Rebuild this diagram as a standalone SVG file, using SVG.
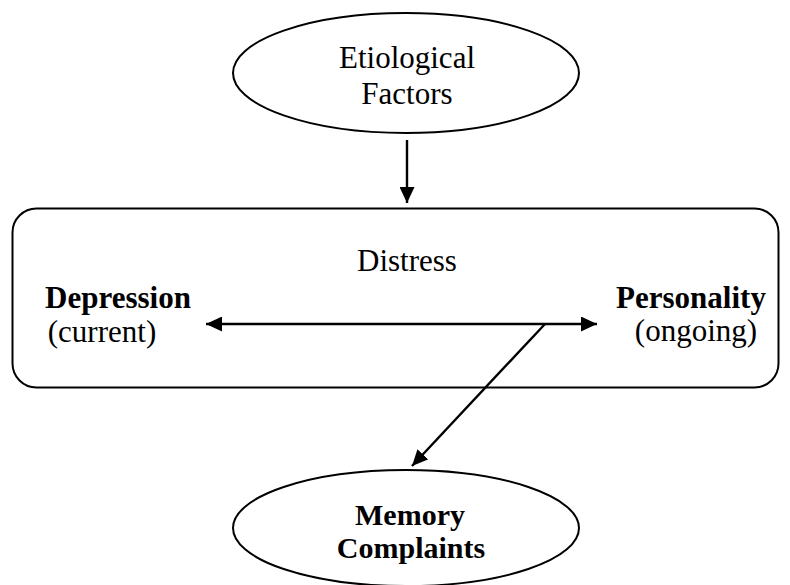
<svg xmlns="http://www.w3.org/2000/svg" width="790" height="585" viewBox="0 0 790 585">
<style>
.shape{fill:#fff;stroke:#000;stroke-width:2}
.t{font-family:"Liberation Serif","Times New Roman",serif;font-size:31px;fill:#000;text-anchor:middle}
.b{font-weight:bold}
.m{font-size:30px}
.c{stroke:#000;stroke-width:2.4;fill:none}
</style>
<defs>
<marker id="ah" markerUnits="userSpaceOnUse" markerWidth="17" markerHeight="15" refX="16" refY="7.5" orient="auto-start-reverse">
<path d="M0,0 L16,7.5 L0,15 Z" fill="#000"/>
</marker>
</defs>
<rect width="790" height="585" fill="#fff"/>
<g id="etiological">
<ellipse class="shape" cx="406" cy="73" rx="173" ry="60"/>
<text class="t" x="407" y="68">Etiological</text>
<text class="t" x="407" y="104">Factors</text>
</g>
<g id="distress">
<rect class="shape" x="12.5" y="208.5" width="766" height="179" rx="24" ry="24"/>
<text class="t" x="407" y="271">Distress</text>
</g>
<g id="depression">
<text class="t b" x="118" y="308">Depression</text>
<text class="t" x="102" y="342">(current)</text>
</g>
<g id="personality">
<text class="t b" x="691" y="308">Personality</text>
<text class="t" x="696" y="341">(ongoing)</text>
</g>
<g id="memory">
<ellipse class="shape" cx="406" cy="528" rx="173" ry="58"/>
<text class="t b m" x="410" y="525">Memory</text>
<text class="t b m" x="411" y="558">Complaints</text>
</g>
<g id="connectors">
<line class="c" x1="407" y1="140" x2="407" y2="203" marker-end="url(#ah)"/>
<line class="c" x1="206" y1="324" x2="597" y2="324" marker-start="url(#ah)" marker-end="url(#ah)"/>
<line class="c" x1="545" y1="324" x2="412" y2="466" marker-end="url(#ah)"/>
</g>
</svg>
